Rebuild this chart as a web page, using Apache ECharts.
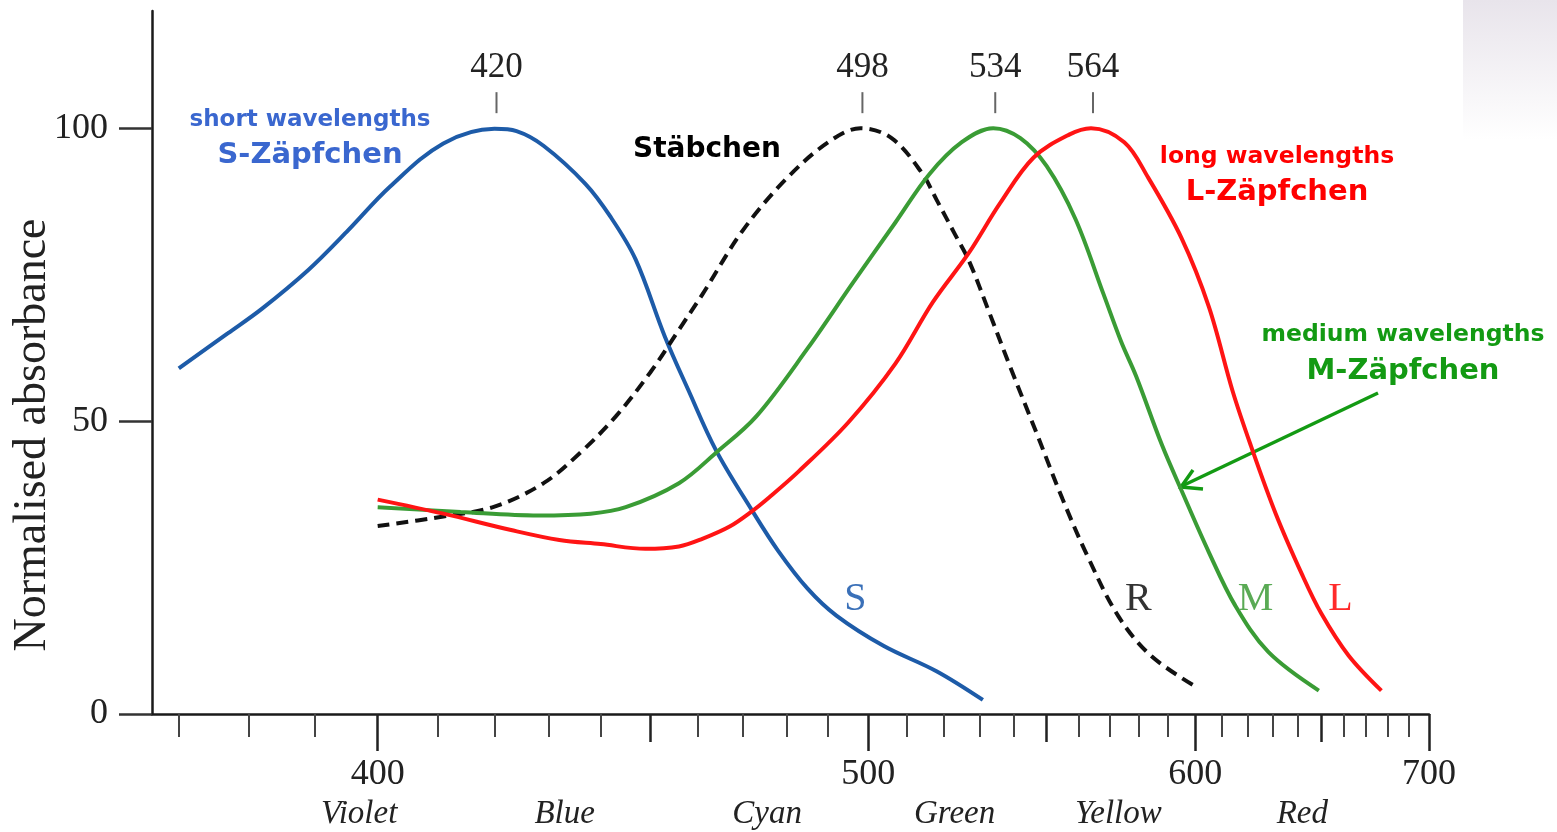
<!DOCTYPE html>
<html><head><meta charset="utf-8">
<script src="https://cdn.jsdelivr.net/npm/echarts@6/dist/echarts.min.js"></script>
<style>html,body{margin:0;padding:0;background:#fff}#c{width:1557px;height:832px}</style>
</head><body><div id="c"></div>
<script>
// ---------- data (wavelength in nm, normalised absorbance) ----------
const sWave = [370, 377, 382, 389, 395, 402, 411, 420, 424, 429, 437, 442, 447, 453, 458, 464, 472, 478, 485, 492, 504, 518, 531];
const sAbs  = [59, 65, 69.2, 75.8, 82.3, 90, 97.4, 99.9, 99.5, 97, 90.5, 84.8, 77.6, 64.5, 55.3, 45, 34.8, 27.9, 21.4, 16.8, 11.6, 7.3, 2.4];

const rWave = [400, 411, 420, 429, 436, 443, 450, 456, 461, 470, 480, 490, 498, 506, 514, 518, 523, 527, 533, 539, 547, 555, 563, 573, 584, 600];
const rAbs  = [32.1, 33.7, 35.4, 39.4, 44.6, 50.8, 58.3, 65.6, 71.6, 82.6, 91.4, 97.6, 100, 98.3, 92.4, 87.8, 82, 77.4, 68.3, 59.2, 47.8, 36.6, 26.8, 16.7, 10, 4.7];

const mWave = [400, 414, 428, 438, 445, 456, 464, 473, 485, 496, 507, 516, 525, 534, 542, 550, 559, 568, 574, 579, 588, 595, 605, 615, 628, 649];
const mAbs  = [35.3, 34.5, 33.9, 34.2, 35.3, 39.4, 44.6, 50.8, 62.4, 73.5, 83.9, 92.1, 97.6, 100, 98.3, 93.5, 84.5, 71.8, 63.5, 57.7, 45.9, 38.1, 27.6, 18.5, 10.6, 4];

const lWave = [400, 411, 423, 432, 440, 449, 456, 461, 467, 472, 476, 483, 495, 507, 517, 527, 536, 546, 557, 564, 575, 583, 595, 605, 614, 621, 631, 642, 650, 662, 677];
const lAbs  = [36.6, 34.2, 31.4, 29.7, 29.0, 28.2, 28.6, 29.9, 32.0, 34.6, 37.0, 41.5, 49.8, 59.8, 70.3, 78.7, 87.2, 95, 98.9, 100, 97.6, 91.7, 81.2, 69.5, 55.1, 45.9, 34.2, 23.7, 17.2, 10, 4];

const peakWaves = [420, 498, 534, 564];
const majorTicks = [400, 500, 600, 700];
const midTicks = [450, 550, 650];
const minorTicks = [370, 380, 390, 410, 420, 430, 440, 460, 470, 480, 490, 510, 520, 530, 540, 560, 570, 580, 590, 610, 620, 630, 640, 660, 670, 680, 690];
const bandNames = ['Violet', 'Blue', 'Cyan', 'Green', 'Yellow', 'Red'];
const bandWaves = [397, 433, 475.5, 523, 573, 642];
const yTicks = [0, 50, 100];

// ---------- reciprocal wavelength scale ----------
const U = w => -100000 / w;
const W = u => -100000 / u;
const pair = (ws, vs) => ws.map((w, i) => [U(w), vs[i]]);

const serif = '"Liberation Serif", "Times New Roman", serif';
const sans = '"DejaVu Sans", sans-serif';

const chart = echarts.init(document.getElementById('c'), null, { renderer: 'canvas' });

function curveLabel(text, w, v, color) {
  return {
    symbol: 'circle', symbolSize: 0, silent: true,
    data: [{ coord: [U(w), v] }],
    label: { show: true, position: 'inside', formatter: text, fontFamily: serif, fontSize: 40, color: color }
  };
}

const baseX = { type: 'value', gridIndex: 0, position: 'bottom', min: U(366.3), max: U(700), splitLine: { show: false } };

chart.setOption({
  animation: false,
  backgroundColor: '#ffffff',
  grid: { left: 152, right: 128, top: 11, bottom: 118, containLabel: false, outerBoundsMode: 'none' },
  xAxis: [
    Object.assign({}, baseX, {
      axisLine: { show: true, onZero: false, lineStyle: { color: '#1a1a1a', width: 2.5 } },
      axisTick: { show: true, customValues: minorTicks.map(U), length: 23, lineStyle: { color: '#444', width: 2 } },
      axisLabel: { show: false }
    }),
    Object.assign({}, baseX, {
      axisLine: { show: false },
      axisTick: { show: true, customValues: midTicks.map(U), length: 28, lineStyle: { color: '#222', width: 2.5 } },
      axisLabel: { show: false }
    }),
    Object.assign({}, baseX, {
      axisLine: { show: false },
      axisTick: { show: true, customValues: majorTicks.map(U), length: 37, lineStyle: { color: '#222', width: 2.5 } },
      axisLabel: { show: true, customValues: majorTicks.map(U), margin: 43, fontFamily: serif, fontSize: 36, color: '#222',
        formatter: v => String(Math.round(W(v))) }
    }),
    Object.assign({}, baseX, {
      axisLine: { show: false },
      axisTick: { show: false },
      axisLabel: { show: true, customValues: bandWaves.map(U), margin: 84, fontFamily: serif, fontStyle: 'italic', fontSize: 33, color: '#222',
        formatter: v => { const w = W(v); let k = 0; bandWaves.forEach((b, i) => { if (Math.abs(b - w) < Math.abs(bandWaves[k] - w)) k = i; }); return bandNames[k]; } }
    })
  ],
  yAxis: {
    type: 'value', min: 0, max: 120,
    splitLine: { show: false },
    axisLine: { show: true, lineStyle: { color: '#1a1a1a', width: 2.5 } },
    axisTick: { show: true, customValues: yTicks, length: 33, lineStyle: { color: '#333', width: 2.5 } },
    axisLabel: { show: true, customValues: yTicks, margin: 44, fontFamily: serif, fontSize: 36, color: '#222' }
  },
  series: [
    { type: 'line', name: 'S', data: pair(sWave, sAbs), smooth: 0.35, symbol: 'none', z: 3,
      lineStyle: { color: '#1d5ba8', width: 4 }, markPoint: curveLabel('S', 496.7, 19.5, '#3a70b8') },
    { type: 'line', name: 'R', data: pair(rWave, rAbs), smooth: 0.35, symbol: 'none', z: 3,
      lineStyle: { color: '#111', width: 4, type: [12, 7] }, markPoint: curveLabel('R', 579.8, 19.5, '#333') },
    { type: 'line', name: 'M', data: pair(mWave, mAbs), smooth: 0.35, symbol: 'none', z: 3,
      lineStyle: { color: '#3a9c35', width: 4 }, markPoint: curveLabel('M', 622.9, 19.5, '#5aaa55') },
    { type: 'line', name: 'L', data: pair(lWave, lAbs), smooth: 0.35, symbol: 'none', z: 4,
      lineStyle: { color: '#ff1414', width: 4 }, markPoint: curveLabel('L', 658.4, 19.5, '#ff2a2a') },
    { type: 'custom', name: 'peaks', clip: false, z: 5, silent: true,
      data: peakWaves.map(w => [U(w), 100, w]),
      renderItem: (params, api) => {
        const p = api.coord([api.value(0), api.value(1)]);
        return { type: 'group', children: [
          { type: 'line', shape: { x1: p[0] + 2, y1: p[1] - 36, x2: p[0] + 2, y2: p[1] - 15 }, style: { stroke: '#666', lineWidth: 2 } },
          { type: 'text', x: p[0] + 2, y: p[1] - 60, style: { text: String(api.value(2)), fontFamily: serif, fontSize: 35, fill: '#222', align: 'center', verticalAlign: 'middle' } }
        ] };
      }
    }
  ],
  graphic: [
    { type: 'rect', left: 1463, top: 0, z: -1, shape: { width: 94, height: 140 },
      style: { fill: new echarts.graphic.LinearGradient(0, 0, 0, 1, [{ offset: 0, color: '#e8e4eb' }, { offset: 1, color: '#ffffff' }]) } },
    { type: 'text', x: 33, y: 435, rotation: Math.PI / 2,
      style: { text: 'Normalised absorbance', font: '46px ' + serif, fill: '#222', align: 'center', verticalAlign: 'middle' } },
    { type: 'text', x: 310, y: 120, style: { text: 'short wavelengths', font: 'bold 23px ' + sans, fill: '#3a67cf', align: 'center', verticalAlign: 'middle' } },
    { type: 'text', x: 310, y: 155, style: { text: 'S-Zäpfchen', font: 'bold 29px ' + sans, fill: '#3a67cf', align: 'center', verticalAlign: 'middle' } },
    { type: 'text', x: 707, y: 150, style: { text: 'Stäbchen', font: 'bold 28px ' + sans, fill: '#000', align: 'center', verticalAlign: 'middle' } },
    { type: 'text', x: 1277, y: 157, style: { text: 'long wavelengths', font: 'bold 23.5px ' + sans, fill: '#ff0000', align: 'center', verticalAlign: 'middle' } },
    { type: 'text', x: 1277, y: 192, style: { text: 'L-Zäpfchen', font: 'bold 29px ' + sans, fill: '#ff0000', align: 'center', verticalAlign: 'middle' } },
    { type: 'text', x: 1403, y: 335, style: { text: 'medium wavelengths', font: 'bold 23.5px ' + sans, fill: '#139a13', align: 'center', verticalAlign: 'middle' } },
    { type: 'text', x: 1403, y: 371, style: { text: 'M-Zäpfchen', font: 'bold 29px ' + sans, fill: '#139a13', align: 'center', verticalAlign: 'middle' } },
    { type: 'polyline', shape: { points: [[1378, 393], [1182, 486]] }, style: { stroke: '#139a13', lineWidth: 3.5, fill: null } },
    { type: 'polyline', shape: { points: [[1193, 470], [1181, 487], [1203, 489]] }, style: { stroke: '#139a13', lineWidth: 3.5, fill: null, lineJoin: 'miter' } }
  ]
});
</script></body></html>
